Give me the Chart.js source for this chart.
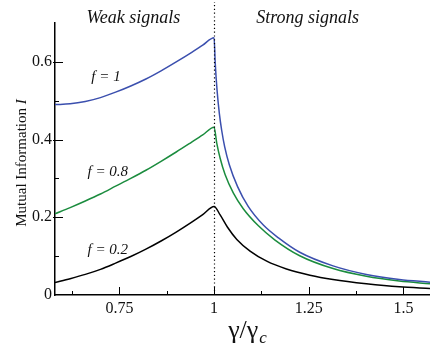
<!DOCTYPE html>
<html lang="en">
<head>
  <meta charset="UTF-8">
  <title>Mutual information vs gamma</title>
  <script src="https://cdn.jsdelivr.net/npm/chart.js@4.4.1/dist/chart.umd.min.js"></script>
  <style>
    body { margin: 0; background: #fff; }
    #wrap { width: 430px; height: 344px; }
  </style>
</head>
<body>
  <div id="wrap"><canvas id="chart"></canvas></div>
  <script>
    // tick values
    const xTicks = [0.75, 1, 1.25, 1.5];
    const xMinorTicks = [0.625, 0.875, 1.125, 1.375];
    const yTicks = [0, 0.2, 0.4, 0.6];
    const yMinorTicks = [0.1, 0.3, 0.5];

    // weak signal side (gamma/gamma_c <= 1), shared x values
    const gammaWeak = [0.58, 0.62, 0.66, 0.70, 0.74, 0.78, 0.82, 0.86, 0.90, 0.94, 0.97, 1.0];
    const infoWeakF1 = [0.490, 0.492, 0.498, 0.508, 0.522, 0.538, 0.556, 0.577, 0.600, 0.624, 0.643, 0.662];
    const infoWeakF08 = [0.209, 0.225, 0.242, 0.260, 0.280, 0.300, 0.321, 0.344, 0.368, 0.393, 0.412, 0.432];
    const infoWeakF02 = [0.032, 0.042, 0.053, 0.066, 0.082, 0.099, 0.118, 0.139, 0.162, 0.187, 0.207, 0.228];

    // strong signal side (gamma/gamma_c > 1)
    const gammaStrongF1 = [1.003, 1.008, 1.014, 1.02, 1.028, 1.04, 1.062, 1.09, 1.13, 1.17, 1.226, 1.314, 1.402, 1.489, 1.57];
    const infoStrongF1 = [0.597, 0.525, 0.466, 0.424, 0.381, 0.336, 0.279, 0.228, 0.180, 0.147, 0.110, 0.075, 0.053, 0.040, 0.033];
    const gammaStrongF08 = [1.007, 1.016, 1.029, 1.051, 1.077, 1.117, 1.16, 1.226, 1.314, 1.402, 1.489, 1.57];
    const infoStrongF08 = [0.391, 0.352, 0.310, 0.262, 0.222, 0.178, 0.142, 0.101, 0.068, 0.048, 0.036, 0.029];
    const gammaStrongF02 = [1.016, 1.035, 1.06, 1.095, 1.139, 1.191, 1.253, 1.314, 1.402, 1.489, 1.57];
    const infoStrongF02 = [0.206, 0.175, 0.143, 0.113, 0.087, 0.067, 0.051, 0.040, 0.029, 0.021, 0.017];

    const serif = '"Liberation Serif", "DejaVu Serif", serif';

    function toPoints(xs1, ys1, xs2, ys2) {
      const pts = xs1.map((x, i) => ({ x: x, y: ys1[i] }));
      xs2.forEach((x, i) => pts.push({ x: x, y: ys2[i] }));
      return pts;
    }

    function line(label, data, color) {
      return {
        label: label,
        data: data,
        borderColor: color,
        borderWidth: 1.5,
        pointRadius: 0,
        fill: false,
        cubicInterpolationMode: 'monotone'
      };
    }

    // ticks inside the axes, dotted line at 1, and all free text
    const decorations = {
      id: 'decorations',
      afterDraw(chart) {
        const ctx = chart.ctx;
        const xs = chart.scales.x;
        const ys = chart.scales.y;
        const a = chart.chartArea;
        ctx.save();

        // dotted line at gamma = gamma_c
        ctx.strokeStyle = '#000';
        ctx.lineWidth = 1.2;
        ctx.setLineDash([1.2, 2.6]);
        ctx.beginPath();
        const x1 = Math.round(xs.getPixelForValue(1)) + 0.5;
        ctx.moveTo(x1, a.bottom);
        ctx.lineTo(x1, 2);
        ctx.stroke();
        ctx.setLineDash([]);

        // tick marks
        ctx.lineWidth = 1;
        ctx.beginPath();
        xTicks.forEach(v => {
          const p = Math.round(xs.getPixelForValue(v)) + 0.5;
          ctx.moveTo(p, a.bottom); ctx.lineTo(p, a.bottom - 8);
        });
        xMinorTicks.forEach(v => {
          const p = Math.round(xs.getPixelForValue(v)) + 0.5;
          ctx.moveTo(p, a.bottom); ctx.lineTo(p, a.bottom - 4);
        });
        yTicks.slice(1).forEach(v => {
          const p = Math.round(ys.getPixelForValue(v)) + 0.5;
          ctx.moveTo(a.left - 2, p); ctx.lineTo(a.left + 8, p);
        });
        yMinorTicks.forEach(v => {
          const p = Math.round(ys.getPixelForValue(v)) + 0.5;
          ctx.moveTo(a.left, p); ctx.lineTo(a.left + 4, p);
        });
        ctx.stroke();

        ctx.fillStyle = '#111';
        ctx.textBaseline = 'alphabetic';

        // region labels
        ctx.font = 'italic 18px ' + serif;
        ctx.textAlign = 'center';
        ctx.fillText('Weak signals', xs.getPixelForValue(0.787), ys.getPixelForValue(0.701));
        ctx.fillText('Strong signals', xs.getPixelForValue(1.247), ys.getPixelForValue(0.701));

        // curve labels
        ctx.font = 'italic 15px ' + serif;
        ctx.textAlign = 'left';
        ctx.fillText('f = 1', xs.getPixelForValue(0.676), ys.getPixelForValue(0.55));
        ctx.fillText('f = 0.8', xs.getPixelForValue(0.666), ys.getPixelForValue(0.305));
        ctx.fillText('f = 0.2', xs.getPixelForValue(0.666), ys.getPixelForValue(0.106));

        // x axis title: gamma / gamma_c
        ctx.font = '26px ' + serif;
        const main = 'γ/γ';
        const wMain = ctx.measureText(main).width;
        ctx.font = 'italic 17px ' + serif;
        const wSub = ctx.measureText('c').width;
        const cx = (a.left + a.right) / 2 + 5;
        const start = cx - (wMain + wSub + 1) / 2;
        ctx.font = '26px ' + serif;
        ctx.fillText(main, start, 338);
        ctx.font = 'italic 17px ' + serif;
        ctx.fillText('c', start + wMain + 1, 343);

        // y axis title: Mutual Information I
        ctx.translate(21, (a.top + a.bottom) / 2 + 4);
        ctx.rotate(-Math.PI / 2);
        ctx.font = '15px ' + serif;
        const t1 = 'Mutual Information ';
        const w1 = ctx.measureText(t1).width;
        ctx.font = 'italic 15px ' + serif;
        const w2 = ctx.measureText('I').width;
        const s = -(w1 + w2) / 2;
        ctx.font = '15px ' + serif;
        ctx.fillText(t1, s, 5);
        ctx.font = 'italic 15px ' + serif;
        ctx.fillText('I', s + w1, 5);

        ctx.restore();
      }
    };

    const ctx = document.getElementById('chart').getContext('2d');
    const myChart = new Chart(ctx, {
      type: 'line',
      data: {
        datasets: [
          line('f = 1', toPoints(gammaWeak, infoWeakF1, gammaStrongF1, infoStrongF1), '#3b4fae'),
          line('f = 0.8', toPoints(gammaWeak, infoWeakF08, gammaStrongF08, infoStrongF08), '#1b8c3e'),
          line('f = 0.2', toPoints(gammaWeak, infoWeakF02, gammaStrongF02, infoStrongF02), '#000000')
        ]
      },
      options: {
        responsive: true,
        maintainAspectRatio: false,
        animation: false,
        layout: { padding: { top: 23, right: 0, left: 0, bottom: 0 } },
        plugins: { legend: { display: false }, tooltip: { enabled: false } },
        scales: {
          x: {
            type: 'linear',
            min: 0.58,
            max: 1.57,
            afterFit: s => { s.height = 49; },
            afterBuildTicks: s => { s.ticks = xTicks.map(v => ({ value: v })); },
            grid: { display: false, drawTicks: false },
            border: { display: true, color: '#000', width: 1.5 },
            ticks: {
              color: '#111',
              padding: 4,
              maxRotation: 0,
              font: { family: serif, size: 16 },
              callback: v => String(v)
            }
          },
          y: {
            type: 'linear',
            min: 0,
            max: 0.7,
            afterFit: s => { s.width = 55; },
            afterBuildTicks: s => { s.ticks = yTicks.map(v => ({ value: v })); },
            grid: { display: false, drawTicks: false },
            border: { display: true, color: '#000', width: 1.5 },
            ticks: {
              color: '#111',
              padding: 3,
              font: { family: serif, size: 16 },
              callback: v => String(v)
            }
          }
        }
      },
      plugins: [decorations]
    });
  </script>
</body>
</html>
